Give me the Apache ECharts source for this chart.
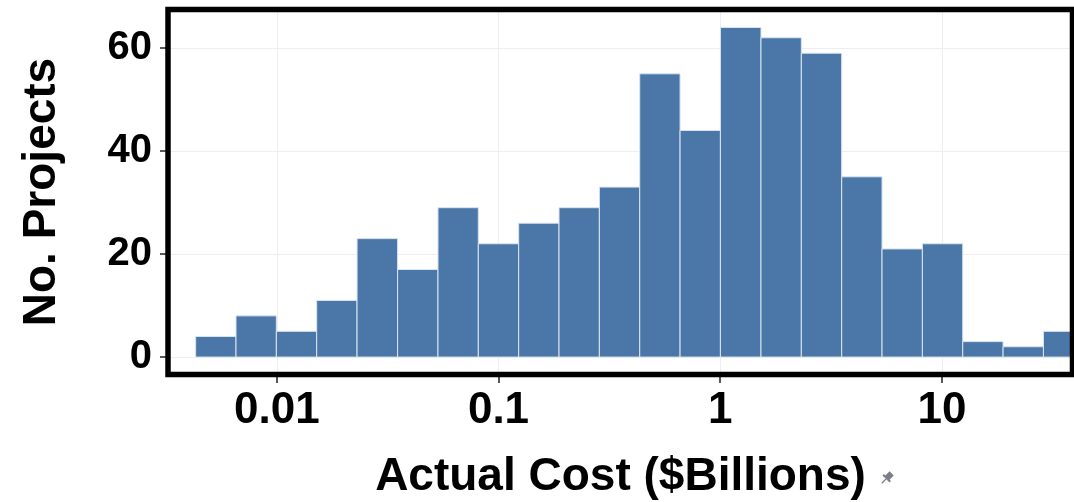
<!DOCTYPE html>
<html>
<head>
<meta charset="utf-8">
<script src="https://cdn.jsdelivr.net/npm/echarts@6/dist/echarts.min.js"></script>
<style>
  html, body { margin: 0; padding: 0; background: #fff; }
  #chart { width: 1074px; height: 502px; }
</style>
</head>
<body>
<div id="chart"></div>
<script>
// Histogram bins, edges given as log10($Billions)
const binEdges = [-2.366, -2.184, -2.002, -1.820, -1.638, -1.455, -1.273, -1.091, -0.909, -0.727,
  -0.545, -0.363, -0.181, 0.001, 0.184, 0.366, 0.548, 0.730, 0.912, 1.094, 1.276, 1.458, 1.640];
const binCounts = [4, 8, 5, 11, 23, 17, 29, 22, 26, 29, 33, 55, 44, 64, 62, 59, 35, 21, 22, 3, 2, 5];

// Tick labels
const xTickValues = [-2, -1, 0, 1];
const xTickLabels = ['0.01', '0.1', '1', '10'];
const yTickValues = [0, 20, 40, 60];

const FONT = '"Liberation Sans", Arial, sans-serif';
const BAR_COLOR = '#4a77a8';

const chart = echarts.init(document.getElementById('chart'));

const histData = binCounts.map((c, i) => [binEdges[i], binEdges[i + 1], c]);

function renderBin(params, api) {
  const start = api.coord([api.value(0), api.value(2)]);
  const end = api.coord([api.value(1), 0]);
  const cs = params.coordSys;
  const shape = echarts.graphic.clipRectByRect(
    { x: start[0], y: start[1], width: end[0] - start[0], height: end[1] - start[1] },
    { x: cs.x, y: cs.y, width: cs.width, height: cs.height }
  );
  return shape && {
    type: 'rect',
    shape: shape,
    style: { fill: BAR_COLOR, stroke: '#dbe5f0', lineWidth: 1 }
  };
}

const option = {
  animation: false,
  backgroundColor: '#fff',
  grid: { left: 170, right: 3, top: 12, bottom: 130, outerBoundsMode: 'none' },
  xAxis: {
    type: 'value',
    min: -2.4817,
    max: 1.5823,
    name: 'Actual Cost ($Billions)',
    nameLocation: 'middle',
    nameGap: 82,
    nameTextStyle: { fontFamily: FONT, fontWeight: 'bold', fontSize: 46, color: '#000' },
    axisLine: { show: false, onZero: false },
    axisTick: { show: true, customValues: xTickValues, length: 11, lineStyle: { color: '#222', width: 1.5 } },
    axisLabel: {
      customValues: xTickValues,
      margin: 17,
      fontFamily: FONT, fontWeight: 'bold', fontSize: 44, color: '#000',
      formatter: v => xTickLabels[xTickValues.indexOf(Math.round(v))] || ''
    },
    splitLine: { show: true, lineStyle: { color: '#eeeeee', width: 1 } }
  },
  yAxis: {
    type: 'value',
    min: -2.9,
    max: 67,
    name: 'No. Projects',
    nameLocation: 'middle',
    nameGap: 105,
    nameTextStyle: { fontFamily: FONT, fontWeight: 'bold', fontSize: 46, color: '#000' },
    axisLine: { show: false, onZero: false },
    axisTick: { show: true, customValues: yTickValues, length: 10, lineStyle: { color: '#222', width: 1.5 } },
    axisLabel: {
      customValues: yTickValues,
      margin: 18,
      fontFamily: FONT, fontWeight: 'bold', fontSize: 40, color: '#000'
    },
    splitLine: { show: true, lineStyle: { color: '#eeeeee', width: 1 } }
  },
  series: [{
    type: 'custom',
    renderItem: renderBin,
    encode: { x: [0, 1], y: 2 },
    data: histData,
    clip: true
  }],
  graphic: [
    // plot frame
    {
      type: 'rect', z: 100, silent: true,
      shape: { x: 168, y: 9.5, width: 904.5, height: 365 },
      style: { fill: 'none', stroke: '#000', lineWidth: 5.5 }
    },
    // small pin next to the axis title
    {
      type: 'group', z: 100, x: 886, y: 479, rotation: -Math.PI / 4,
      children: [
        { type: 'rect', shape: { x: -3, y: -8, width: 6, height: 7 }, style: { fill: '#7a7f88' } },
        { type: 'rect', shape: { x: -5, y: -2, width: 10, height: 2 }, style: { fill: '#7a7f88' } },
        { type: 'line', shape: { x1: 0, y1: 0, x2: 0, y2: 6 }, style: { stroke: '#7a7f88', lineWidth: 1.2 } }
      ]
    }
  ]
};

chart.setOption(option);
</script>
</body>
</html>
